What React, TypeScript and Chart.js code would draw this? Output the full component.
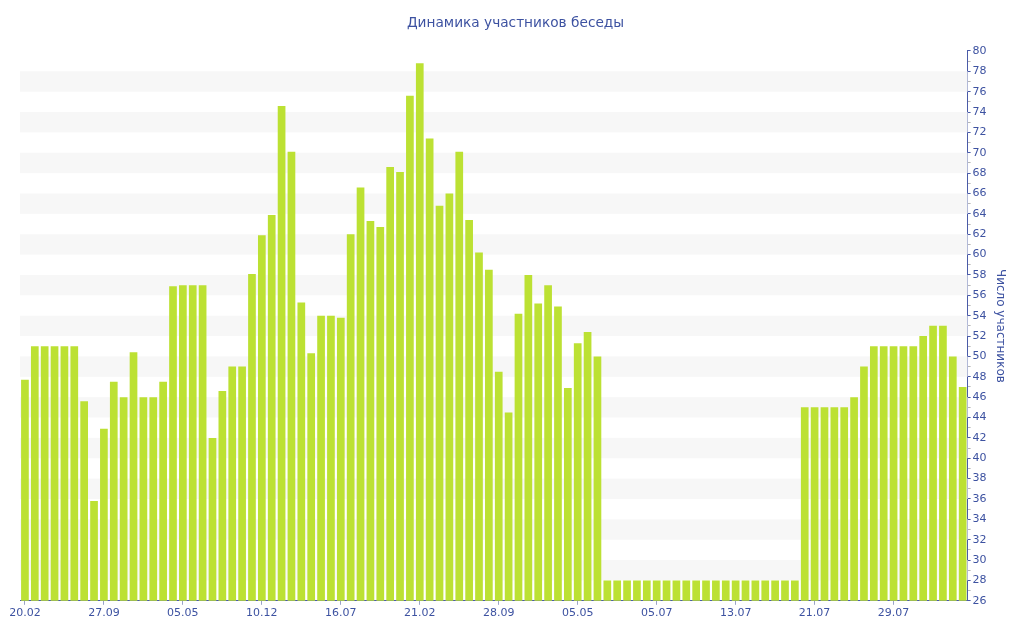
import React, { useEffect, useRef } from 'react';
import { Chart, registerables } from 'chart.js';

Chart.register(...registerables);

const chartTitle = 'Динамика участников беседы';
const axisTitle = 'Число участников';

const tickLabels = ['20.02', '27.09', '05.05', '10.12', '16.07', '21.02', '28.09', '05.05', '05.07', '13.07', '21.07', '29.07'];
const tickEvery = 8;

const members = [
  47.7, 51, 51, 51, 51, 51, 45.6, 35.8, 42.9, 47.5, 46, 50.4, 46, 46, 47.5, 56.9,
  57, 57, 57, 42, 46.6, 49, 49, 58.1, 61.9, 63.9, 74.6, 70.1, 55.3, 50.3, 54, 54,
  53.8, 62, 66.6, 63.3, 62.7, 68.6, 68.1, 75.6, 78.8, 71.4, 64.8, 66, 70.1, 63.4, 60.2, 58.5,
  48.5, 44.5, 54.2, 58, 55.2, 57, 54.9, 46.9, 51.3, 52.4, 50, 28, 28, 28, 28, 28,
  28, 28, 28, 28, 28, 28, 28, 28, 28, 28, 28, 28, 28, 28, 28, 45,
  45, 45, 45, 45, 46, 49, 51, 51, 51, 51, 51, 52, 53, 53, 50, 47,
];

const categories = members.map((_, i) => (i % tickEvery === 0 ? tickLabels[i / tickEvery] : ''));

const yMin = 26;
const yMax = 80;

const TEXT = '#3d52a1';
const AXIS = '#4a5ba8';
const BAR = '#bce133';
const BAND = '#f7f7f7';
const FONT = "'DejaVu Sans', Verdana, sans-serif";

const bandPlugin = {
  id: 'bands',
  beforeDatasetsDraw(chart: any) {
    const { ctx, chartArea, scales } = chart;
    const y = scales.y;
    ctx.save();
    ctx.fillStyle = BAND;
    for (let v = yMin; v < yMax; v += 2) {
      if (v % 4 === 0) {
        const top = y.getPixelForValue(Math.min(v + 2, yMax));
        const bottom = y.getPixelForValue(v);
        ctx.fillRect(chartArea.left, top, chartArea.right - chartArea.left, bottom - top);
      }
    }
    ctx.restore();
  },
};

export default function App() {
  const ref = useRef<HTMLCanvasElement | null>(null);

  useEffect(() => {
    document.body.style.margin = '0';
    const canvas = ref.current;
    if (!canvas) return;
    const chart = new Chart(canvas, {
      type: 'bar',
      data: {
        labels: categories,
        datasets: [
          {
            label: axisTitle,
            data: members,
            backgroundColor: BAR,
            borderWidth: 0,
            categoryPercentage: 1,
            barPercentage: 0.78,
          },
        ],
      },
      options: {
        responsive: false,
        animation: false,
        layout: { padding: { left: 20, right: 13, top: 0, bottom: 18 } },
        plugins: {
          legend: { display: false },
          tooltip: { enabled: false },
          title: {
            display: true,
            text: chartTitle,
            color: TEXT,
            font: { family: FONT, size: 13.7, weight: 'normal' },
            padding: { top: 15, bottom: 19.5 },
          },
        },
        scales: {
          x: {
            type: 'category',
            offset: true,
            grid: {
              display: true,
              drawOnChartArea: false,
              offset: false,
              tickLength: 4,
              tickColor: '#9aa3c8',
            },
            border: { display: true, color: AXIS, width: 1 },
            ticks: {
              autoSkip: false,
              maxRotation: 0,
              padding: 2,
              color: TEXT,
              font: { family: FONT, size: 11 },
              callback: (_v: any, index: number) => (categories[index] !== '' ? categories[index] : null),
            },
          },
          y: {
            type: 'linear',
            position: 'right',
            min: yMin,
            max: yMax,
            grid: {
              display: true,
              drawOnChartArea: false,
              tickLength: 3,
              tickColor: (c: any) => (c.tick && c.tick.value % 2 === 0 ? AXIS : '#b5b5b5'),
            },
            border: { display: true, color: AXIS, width: 1 },
            ticks: {
              stepSize: 1,
              autoSkip: false,
              maxTicksLimit: 100,
              padding: 2,
              color: TEXT,
              font: { family: FONT, size: 11 },
              callback: (v: any) => (Number(v) % 2 === 0 ? String(v) : ''),
            },
            title: {
              display: true,
              text: axisTitle,
              color: TEXT,
              font: { family: FONT, size: 12, weight: 'normal' },
              padding: { top: 4, bottom: 4 },
            },
          },
        },
      },
      plugins: [bandPlugin],
    });
    return () => chart.destroy();
  }, []);

  return (
    <div style={{ width: 1024, height: 640 }}>
      <canvas ref={ref} width={1024} height={640} style={{ display: 'block' }} />
    </div>
  );
}
